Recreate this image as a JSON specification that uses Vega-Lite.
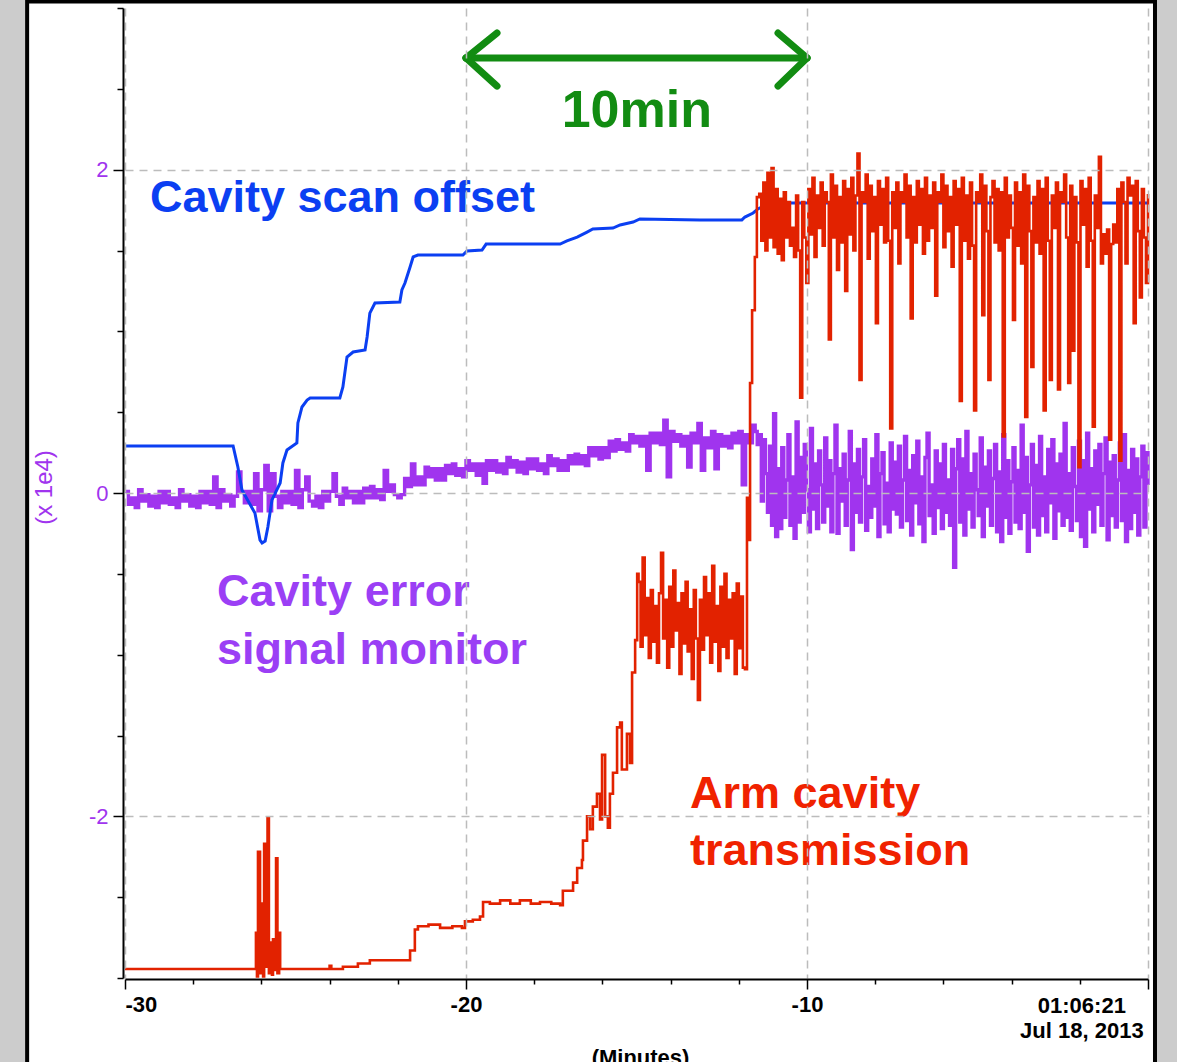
{
"$schema": "https://vega.github.io/schema/vega-lite/v6.json",
"width": 1023,
"height": 970,
"autosize": {"type": "none"},
"padding": {"left": 125, "top": 8, "right": 29, "bottom": 84},
"background": "#cccccc",
"config": {"view": {"stroke": null}, "font": "Liberation Sans"},
"resolve": {"axis": {"x": "independent", "y": "independent"}},
"datasets": {
"frame": [{"t": -32.87, "t2": 0.205, "v": 3.04, "v2": -4.5}],
"blue": [
{"t":-30.00,"v":0.291},{"t":-26.83,"v":0.291},{"t":-26.69,"v":0.161},{"t":-26.57,"v":0.019},{"t":-26.19,"v":-0.124},{"t":-26.04,"v":-0.291},{"t":-25.98,"v":-0.309},{"t":-25.89,"v":-0.297},{"t":-25.81,"v":-0.210},{"t":-25.69,"v":-0.043},{"t":-25.45,"v":0.062},{"t":-25.37,"v":0.186},{"t":-25.25,"v":0.266},{"t":-24.96,"v":0.309},{"t":-24.93,"v":0.433},{"t":-24.81,"v":0.532},{"t":-24.66,"v":0.575},{"t":-24.57,"v":0.588},{"t":-23.70,"v":0.588},{"t":-23.61,"v":0.656},{"t":-23.49,"v":0.841},{"t":-23.31,"v":0.872},{"t":-22.96,"v":0.885},{"t":-22.90,"v":0.965},{"t":-22.82,"v":1.113},{"t":-22.67,"v":1.175},{"t":-21.94,"v":1.181},{"t":-21.88,"v":1.256},{"t":-21.79,"v":1.299},{"t":-21.64,"v":1.398},{"t":-21.55,"v":1.460},{"t":-21.41,"v":1.472},{"t":-20.09,"v":1.472},{"t":-19.97,"v":1.497},{"t":-19.53,"v":1.503},{"t":-19.41,"v":1.540},{"t":-17.24,"v":1.540},{"t":-17.04,"v":1.559},{"t":-16.74,"v":1.583},{"t":-16.45,"v":1.614},{"t":-16.28,"v":1.633},{"t":-15.69,"v":1.639},{"t":-15.48,"v":1.658},{"t":-15.10,"v":1.676},{"t":-14.90,"v":1.695},{"t":-13.14,"v":1.689},{"t":-11.91,"v":1.689},{"t":-11.82,"v":1.707},{"t":-11.58,"v":1.732},{"t":-11.44,"v":1.757},{"t":-11.09,"v":1.794},{"t":0.00,"v":1.794}
],
"purple": [
{"t":-30.0,"v":0.01},{"t":-29.9,"v":-0.07},{"t":-29.8,"v":-0.03},{"t":-29.7,"v":-0.09},{"t":-29.6,"v":0.02},{"t":-29.5,"v":-0.05},{"t":-29.4,"v":-0.01},{"t":-29.3,"v":-0.08},{"t":-29.2,"v":-0.02},{"t":-29.1,"v":-0.09},
{"t":-29.0,"v":0.01},{"t":-28.9,"v":-0.06},{"t":-28.8,"v":0.01},{"t":-28.7,"v":-0.07},{"t":-28.6,"v":-0.03},{"t":-28.5,"v":-0.09},{"t":-28.4,"v":0.02},{"t":-28.3,"v":-0.05},{"t":-28.2,"v":-0.01},{"t":-28.1,"v":-0.08},
{"t":-28.0,"v":-0.02},{"t":-27.9,"v":-0.09},{"t":-27.8,"v":0.01},{"t":-27.7,"v":-0.06},{"t":-27.6,"v":0.01},{"t":-27.5,"v":-0.07},{"t":-27.4,"v":0.10},{"t":-27.3,"v":-0.09},{"t":-27.2,"v":0.02},{"t":-27.1,"v":-0.05},
{"t":-27.0,"v":-0.01},{"t":-26.9,"v":-0.08},{"t":-26.8,"v":-0.02},{"t":-26.7,"v":0.13},{"t":-26.6,"v":0.01},{"t":-26.5,"v":-0.06},{"t":-26.4,"v":0.01},{"t":-26.3,"v":-0.07},{"t":-26.2,"v":0.12},{"t":-26.1,"v":-0.11},
{"t":-26.0,"v":0.02},{"t":-25.9,"v":0.17},{"t":-25.8,"v":-0.11},{"t":-25.7,"v":0.12},{"t":-25.6,"v":-0.02},{"t":-25.5,"v":-0.09},{"t":-25.4,"v":0.01},{"t":-25.3,"v":-0.06},{"t":-25.2,"v":0.01},{"t":-25.1,"v":-0.07},
{"t":-25.0,"v":0.14},{"t":-24.9,"v":-0.09},{"t":-24.8,"v":0.02},{"t":-24.7,"v":0.10},{"t":-24.6,"v":-0.05},{"t":-24.5,"v":-0.08},{"t":-24.4,"v":-0.02},{"t":-24.3,"v":-0.09},{"t":-24.2,"v":0.01},{"t":-24.1,"v":-0.05},
{"t":-24.0,"v":0.01},{"t":-23.9,"v":0.12},{"t":-23.8,"v":-0.02},{"t":-23.7,"v":-0.07},{"t":-23.6,"v":0.03},{"t":-23.5,"v":-0.03},{"t":-23.4,"v":0.01},{"t":-23.3,"v":-0.06},{"t":-23.2,"v":0.01},{"t":-23.1,"v":-0.06},
{"t":-23.0,"v":0.03},{"t":-22.9,"v":-0.03},{"t":-22.8,"v":0.04},{"t":-22.7,"v":-0.03},{"t":-22.6,"v":0.02},{"t":-22.5,"v":-0.04},{"t":-22.4,"v":0.14},{"t":-22.3,"v":0.01},{"t":-22.2,"v":0.05},{"t":-22.1,"v":-0.01},
{"t":-22.0,"v":-0.03},{"t":-21.9,"v":-0.01},{"t":-21.8,"v":0.09},{"t":-21.7,"v":0.04},{"t":-21.6,"v":0.18},{"t":-21.5,"v":0.05},{"t":-21.4,"v":0.10},{"t":-21.3,"v":0.05},{"t":-21.2,"v":0.16},{"t":-21.1,"v":0.10},
{"t":-21.0,"v":0.15},{"t":-20.9,"v":0.08},{"t":-20.8,"v":0.15},{"t":-20.7,"v":0.08},{"t":-20.6,"v":0.17},{"t":-20.5,"v":0.12},{"t":-20.4,"v":0.18},{"t":-20.3,"v":0.11},{"t":-20.2,"v":0.15},{"t":-20.1,"v":0.10},
{"t":-20.0,"v":0.20},{"t":-19.9,"v":0.14},{"t":-19.8,"v":0.18},{"t":-19.7,"v":0.11},{"t":-19.6,"v":0.18},{"t":-19.5,"v":0.06},{"t":-19.4,"v":0.20},{"t":-19.3,"v":0.14},{"t":-19.2,"v":0.20},{"t":-19.1,"v":0.13},
{"t":-19.0,"v":0.18},{"t":-18.9,"v":0.12},{"t":-18.8,"v":0.22},{"t":-18.7,"v":0.16},{"t":-18.6,"v":0.20},{"t":-18.5,"v":0.13},{"t":-18.4,"v":0.19},{"t":-18.3,"v":0.12},{"t":-18.2,"v":0.21},{"t":-18.1,"v":0.15},
{"t":-18.0,"v":0.21},{"t":-17.9,"v":0.14},{"t":-17.8,"v":0.18},{"t":-17.7,"v":0.12},{"t":-17.6,"v":0.23},{"t":-17.5,"v":0.17},{"t":-17.4,"v":0.21},{"t":-17.3,"v":0.14},{"t":-17.2,"v":0.20},{"t":-17.1,"v":0.14},
{"t":-17.0,"v":0.23},{"t":-16.9,"v":0.18},{"t":-16.8,"v":0.24},{"t":-16.7,"v":0.18},{"t":-16.6,"v":0.23},{"t":-16.5,"v":0.17},{"t":-16.4,"v":0.28},{"t":-16.3,"v":0.23},{"t":-16.2,"v":0.28},{"t":-16.1,"v":0.21},
{"t":-16.0,"v":0.28},{"t":-15.9,"v":0.22},{"t":-15.8,"v":0.32},{"t":-15.7,"v":0.26},{"t":-15.6,"v":0.33},{"t":-15.5,"v":0.27},{"t":-15.4,"v":0.31},{"t":-15.3,"v":0.26},{"t":-15.2,"v":0.36},{"t":-15.1,"v":0.31},
{"t":-15.0,"v":0.35},{"t":-14.9,"v":0.29},{"t":-14.8,"v":0.35},{"t":-14.7,"v":0.14},{"t":-14.6,"v":0.37},{"t":-14.5,"v":0.31},{"t":-14.4,"v":0.37},{"t":-14.3,"v":0.30},{"t":-14.2,"v":0.45},{"t":-14.1,"v":0.10},
{"t":-14.0,"v":0.38},{"t":-13.9,"v":0.32},{"t":-13.8,"v":0.36},{"t":-13.7,"v":0.29},{"t":-13.6,"v":0.35},{"t":-13.5,"v":0.16},{"t":-13.4,"v":0.37},{"t":-13.3,"v":0.31},{"t":-13.2,"v":0.43},{"t":-13.1,"v":0.14},
{"t":-13.0,"v":0.34},{"t":-12.9,"v":0.28},{"t":-12.8,"v":0.38},{"t":-12.7,"v":0.15},{"t":-12.6,"v":0.36},{"t":-12.5,"v":0.29},{"t":-12.4,"v":0.35},{"t":-12.3,"v":0.28},{"t":-12.2,"v":0.37},{"t":-12.1,"v":0.31},
{"t":-12.0,"v":0.38},{"t":-11.9,"v":0.05},{"t":-11.8,"v":0.36},{"t":-11.7,"v":0.31},{"t":-11.6,"v":0.42},
{"t":-11.52,"v":0.38},{"t":-11.46,"v":0.30},{"t":-11.40,"v":0.36},{"t":-11.34,"v":-0.05},{"t":-11.28,"v":0.33},{"t":-11.22,"v":0.12},{"t":-11.16,"v":-0.12},{"t":-11.10,"v":0.29},{"t":-11.04,"v":-0.20},{"t":-10.98,"v":0.49},
{"t":-10.92,"v":-0.27},{"t":-10.86,"v":0.15},{"t":-10.80,"v":-0.22},{"t":-10.74,"v":0.28},{"t":-10.68,"v":-0.15},{"t":-10.62,"v":0.08},{"t":-10.56,"v":0.36},{"t":-10.50,"v":-0.20},{"t":-10.44,"v":0.10},{"t":-10.38,"v":-0.28},
{"t":-10.32,"v":0.44},{"t":-10.26,"v":-0.18},{"t":-10.20,"v":0.22},{"t":-10.14,"v":-0.12},{"t":-10.08,"v":0.30},{"t":-10.02,"v":0.02},{"t":-9.96,"v":-0.24},{"t":-9.90,"v":0.40},{"t":-9.84,"v":-0.10},{"t":-9.78,"v":0.18},
{"t":-9.72,"v":-0.22},{"t":-9.66,"v":0.26},{"t":-9.60,"v":0.05},{"t":-9.54,"v":-0.18},{"t":-9.48,"v":0.34},{"t":-9.42,"v":-0.08},{"t":-9.36,"v":0.20},{"t":-9.30,"v":-0.24},{"t":-9.24,"v":0.12},{"t":-9.18,"v":0.42},
{"t":-9.12,"v":-0.25},{"t":-9.06,"v":0.15},{"t":-9.00,"v":-0.05},{"t":-8.94,"v":0.24},{"t":-8.88,"v":-0.20},{"t":-8.82,"v":0.08},{"t":-8.76,"v":0.38},{"t":-8.70,"v":-0.35},{"t":-8.64,"v":0.18},{"t":-8.58,"v":-0.12},
{"t":-8.52,"v":0.27},{"t":-8.46,"v":-0.18},{"t":-8.40,"v":0.10},{"t":-8.34,"v":0.33},{"t":-8.28,"v":-0.23},{"t":-8.22,"v":0.04},{"t":-8.16,"v":-0.15},{"t":-8.10,"v":0.21},{"t":-8.04,"v":-0.08},{"t":-7.98,"v":0.36},
{"t":-7.92,"v":-0.27},{"t":-7.86,"v":0.12},{"t":-7.80,"v":0.25},{"t":-7.74,"v":-0.19},{"t":-7.68,"v":0.06},{"t":-7.62,"v":-0.24},{"t":-7.56,"v":0.31},{"t":-7.50,"v":-0.10},{"t":-7.44,"v":0.19},{"t":-7.38,"v":-0.13},
{"t":-7.32,"v":0.29},{"t":-7.26,"v":-0.21},{"t":-7.20,"v":0.08},{"t":-7.14,"v":0.35},{"t":-7.08,"v":-0.17},{"t":-7.02,"v":0.14},{"t":-6.96,"v":-0.26},{"t":-6.90,"v":0.23},{"t":-6.84,"v":-0.06},{"t":-6.78,"v":0.32},
{"t":-6.72,"v":-0.19},{"t":-6.66,"v":0.10},{"t":-6.60,"v":-0.30},{"t":-6.54,"v":0.22},{"t":-6.48,"v":0.37},{"t":-6.42,"v":-0.14},{"t":-6.36,"v":0.05},{"t":-6.30,"v":-0.25},{"t":-6.24,"v":0.26},{"t":-6.18,"v":-0.09},
{"t":-6.12,"v":0.18},{"t":-6.06,"v":-0.22},{"t":-6.00,"v":0.30},{"t":-5.94,"v":-0.12},{"t":-5.88,"v":0.08},{"t":-5.82,"v":-0.20},{"t":-5.76,"v":0.27},{"t":-5.70,"v":-0.46},{"t":-5.64,"v":0.15},{"t":-5.58,"v":0.33},
{"t":-5.52,"v":-0.18},{"t":-5.46,"v":0.21},{"t":-5.40,"v":-0.26},{"t":-5.34,"v":0.38},{"t":-5.28,"v":-0.10},{"t":-5.22,"v":0.12},{"t":-5.16,"v":-0.21},{"t":-5.10,"v":0.24},{"t":-5.04,"v":0.02},{"t":-4.98,"v":-0.14},
{"t":-4.92,"v":0.34},{"t":-4.86,"v":-0.27},{"t":-4.80,"v":0.16},{"t":-4.74,"v":-0.08},{"t":-4.68,"v":0.26},{"t":-4.62,"v":-0.20},{"t":-4.56,"v":0.09},{"t":-4.50,"v":0.30},{"t":-4.44,"v":-0.24},{"t":-4.38,"v":0.13},
{"t":-4.32,"v":-0.30},{"t":-4.26,"v":0.36},{"t":-4.20,"v":-0.15},{"t":-4.14,"v":0.20},{"t":-4.08,"v":-0.25},{"t":-4.02,"v":0.07},{"t":-3.96,"v":0.28},{"t":-3.90,"v":-0.18},{"t":-3.84,"v":0.14},{"t":-3.78,"v":-0.22},
{"t":-3.72,"v":0.42},{"t":-3.66,"v":-0.12},{"t":-3.60,"v":0.22},{"t":-3.54,"v":-0.36},{"t":-3.48,"v":0.05},{"t":-3.42,"v":0.30},{"t":-3.36,"v":-0.21},{"t":-3.30,"v":0.17},{"t":-3.24,"v":-0.26},{"t":-3.18,"v":0.35},
{"t":-3.12,"v":-0.14},{"t":-3.06,"v":0.10},{"t":-3.00,"v":-0.24},{"t":-2.94,"v":0.27},{"t":-2.88,"v":-0.06},{"t":-2.82,"v":0.33},{"t":-2.76,"v":-0.28},{"t":-2.70,"v":0.18},{"t":-2.64,"v":-0.11},{"t":-2.58,"v":0.24},
{"t":-2.52,"v":-0.20},{"t":-2.46,"v":0.43},{"t":-2.40,"v":-0.15},{"t":-2.34,"v":0.12},{"t":-2.28,"v":-0.23},{"t":-2.22,"v":0.28},{"t":-2.16,"v":0.04},{"t":-2.10,"v":-0.17},{"t":-2.04,"v":0.32},{"t":-1.98,"v":-0.27},
{"t":-1.92,"v":0.20},{"t":-1.86,"v":-0.33},{"t":-1.80,"v":0.37},{"t":-1.74,"v":-0.10},{"t":-1.68,"v":0.15},{"t":-1.62,"v":-0.24},{"t":-1.56,"v":0.26},{"t":-1.50,"v":-0.07},{"t":-1.44,"v":0.30},{"t":-1.38,"v":-0.20},
{"t":-1.32,"v":0.12},{"t":-1.26,"v":0.34},{"t":-1.20,"v":-0.29},{"t":-1.14,"v":0.19},{"t":-1.08,"v":-0.14},{"t":-1.02,"v":0.23},{"t":-0.96,"v":-0.21},{"t":-0.90,"v":0.08},{"t":-0.84,"v":0.31},{"t":-0.78,"v":-0.17},
{"t":-0.72,"v":0.36},{"t":-0.66,"v":-0.30},{"t":-0.60,"v":0.14},{"t":-0.54,"v":-0.22},{"t":-0.48,"v":0.27},{"t":-0.42,"v":-0.12},{"t":-0.36,"v":0.21},{"t":-0.30,"v":-0.26},{"t":-0.24,"v":0.10},{"t":-0.18,"v":0.29},
{"t":-0.12,"v":-0.21},{"t":-0.06,"v":0.25},{"t":0.00,"v":0.05}
],
"red": [
{"t":-30.00,"v":-2.944},{"t":-26.19,"v":-2.944},{"t":-26.16,"v":-2.72},{"t":-26.13,"v":-2.99},{"t":-26.10,"v":-2.22},{"t":-26.04,"v":-2.97},{"t":-26.01,"v":-2.54},{"t":-25.95,"v":-2.99},{"t":-25.92,"v":-2.17},{"t":-25.86,"v":-2.93},{"t":-25.82,"v":-2.01},{"t":-25.78,"v":-2.97},{"t":-25.75,"v":-2.78},{"t":-25.69,"v":-2.98},{"t":-25.66,"v":-2.76},{"t":-25.60,"v":-2.95},{"t":-25.57,"v":-2.26},{"t":-25.53,"v":-2.97},{"t":-25.48,"v":-2.72},{"t":-25.45,"v":-2.944},{"t":-24.10,"v":-2.944},{"t":-24.00,"v":-2.925},{"t":-23.95,"v":-2.944},{"t":-23.61,"v":-2.93},{"t":-23.17,"v":-2.91},{"t":-22.82,"v":-2.89},{"t":-21.94,"v":-2.89},{"t":-21.64,"v":-2.83},{"t":-21.50,"v":-2.70},{"t":-21.41,"v":-2.68},{"t":-21.10,"v":-2.67},{"t":-20.76,"v":-2.69},{"t":-20.40,"v":-2.68},{"t":-20.12,"v":-2.69},{"t":-20.03,"v":-2.65},{"t":-19.80,"v":-2.64},{"t":-19.59,"v":-2.62},{"t":-19.50,"v":-2.53},{"t":-19.30,"v":-2.54},{"t":-19.00,"v":-2.52},{"t":-18.70,"v":-2.54},{"t":-18.42,"v":-2.52},{"t":-18.10,"v":-2.54},{"t":-17.83,"v":-2.53},{"t":-17.50,"v":-2.54},{"t":-17.24,"v":-2.55},{"t":-17.16,"v":-2.46},{"t":-16.86,"v":-2.41},{"t":-16.74,"v":-2.32},{"t":-16.60,"v":-2.27},{"t":-16.57,"v":-2.15},{"t":-16.45,"v":-2.00},{"t":-16.36,"v":-2.08},{"t":-16.28,"v":-1.94},{"t":-16.16,"v":-1.86},{"t":-16.07,"v":-2.02},{"t":-16.01,"v":-1.62},{"t":-15.92,"v":-2.00},{"t":-15.84,"v":-2.07},{"t":-15.78,"v":-1.86},{"t":-15.69,"v":-1.73},{"t":-15.57,"v":-1.45},{"t":-15.48,"v":-1.42},{"t":-15.43,"v":-1.71},{"t":-15.28,"v":-1.49},{"t":-15.19,"v":-1.67},{"t":-15.13,"v":-1.11},{"t":-15.04,"v":-0.91},{"t":-14.98,"v":-0.50},
{"t":-14.94,"v":-0.55},{"t":-14.88,"v":-0.95},{"t":-14.82,"v":-0.40},{"t":-14.76,"v":-0.88},{"t":-14.70,"v":-0.65},{"t":-14.64,"v":-1.02},{"t":-14.58,"v":-0.60},{"t":-14.52,"v":-0.92},{"t":-14.46,"v":-0.70},{"t":-14.40,"v":-1.05},{"t":-14.34,"v":-0.62},{"t":-14.28,"v":-0.37},{"t":-14.22,"v":-0.90},{"t":-14.16,"v":-0.66},{"t":-14.10,"v":-1.08},{"t":-14.04,"v":-0.58},{"t":-13.98,"v":-0.95},{"t":-13.92,"v":-0.48},{"t":-13.86,"v":-0.85},{"t":-13.80,"v":-0.68},{"t":-13.74,"v":-1.12},{"t":-13.68,"v":-0.62},{"t":-13.62,"v":-0.93},{"t":-13.56,"v":-0.55},{"t":-13.50,"v":-0.98},{"t":-13.44,"v":-0.72},{"t":-13.38,"v":-1.15},{"t":-13.32,"v":-0.60},{"t":-13.26,"v":-0.90},{"t":-13.20,"v":-1.28},{"t":-13.14,"v":-0.66},{"t":-13.08,"v":-0.97},{"t":-13.02,"v":-0.52},{"t":-12.96,"v":-0.88},{"t":-12.90,"v":-0.62},{"t":-12.84,"v":-1.05},{"t":-12.78,"v":-0.45},{"t":-12.72,"v":-0.92},{"t":-12.66,"v":-0.70},{"t":-12.60,"v":-1.10},{"t":-12.54,"v":-0.58},{"t":-12.48,"v":-0.95},{"t":-12.42,"v":-0.50},{"t":-12.36,"v":-1.02},{"t":-12.30,"v":-0.66},{"t":-12.24,"v":-0.90},{"t":-12.18,"v":-0.62},{"t":-12.12,"v":-1.12},{"t":-12.06,"v":-0.56},{"t":-12.00,"v":-0.96},{"t":-11.94,"v":-0.64},{"t":-11.88,"v":-1.08},
{"t":-11.82,"v":-1.09},{"t":-11.76,"v":-0.03},{"t":-11.73,"v":-0.29},{"t":-11.67,"v":0.68},{"t":-11.61,"v":1.13},{"t":-11.53,"v":1.46},{"t":-11.47,"v":1.83},
{"t":-11.40,"v":1.85},{"t":-11.34,"v":1.56},{"t":-11.28,"v":1.92},{"t":-11.22,"v":1.50},{"t":-11.16,"v":1.98},{"t":-11.10,"v":1.58},{"t":-11.04,"v":2.01},{"t":-10.98,"v":1.52},{"t":-10.92,"v":1.88},{"t":-10.86,"v":1.48},
{"t":-10.80,"v":1.82},{"t":-10.74,"v":1.44},{"t":-10.68,"v":1.86},{"t":-10.62,"v":1.58},{"t":-10.56,"v":1.80},{"t":-10.50,"v":1.53},{"t":-10.44,"v":1.64},{"t":-10.38,"v":1.46},{"t":-10.32,"v":1.84},{"t":-10.26,"v":1.50},
{"t":-10.20,"v":0.59},{"t":-10.14,"v":1.80},{"t":-10.08,"v":1.58},{"t":-10.02,"v":1.30},{"t":-9.96,"v":1.88},{"t":-9.90,"v":1.60},{"t":-9.84,"v":1.95},{"t":-9.78,"v":1.46},{"t":-9.72,"v":1.84},{"t":-9.66,"v":1.64},
{"t":-9.60,"v":1.92},{"t":-9.54,"v":1.53},{"t":-9.48,"v":1.86},{"t":-9.42,"v":1.80},{"t":-9.36,"v":0.95},{"t":-9.30,"v":1.97},{"t":-9.24,"v":1.58},{"t":-9.18,"v":1.90},{"t":-9.12,"v":1.38},{"t":-9.06,"v":1.83},
{"t":-9.00,"v":1.55},{"t":-8.94,"v":1.93},{"t":-8.88,"v":1.25},{"t":-8.82,"v":1.88},{"t":-8.76,"v":1.60},{"t":-8.70,"v":1.95},{"t":-8.64,"v":1.50},{"t":-8.58,"v":1.84},{"t":-8.52,"v":2.10},{"t":-8.46,"v":0.70},
{"t":-8.40,"v":1.86},{"t":-8.34,"v":1.80},{"t":-8.28,"v":1.97},{"t":-8.22,"v":1.45},{"t":-8.16,"v":1.90},{"t":-8.10,"v":1.62},{"t":-8.04,"v":1.83},{"t":-7.98,"v":1.05},{"t":-7.92,"v":1.93},{"t":-7.86,"v":1.66},
{"t":-7.80,"v":1.88},{"t":-7.74,"v":1.55},{"t":-7.68,"v":1.95},{"t":-7.62,"v":1.56},{"t":-7.56,"v":0.40},{"t":-7.50,"v":1.86},{"t":-7.44,"v":1.64},{"t":-7.38,"v":1.92},{"t":-7.32,"v":1.42},{"t":-7.26,"v":1.86},
{"t":-7.20,"v":1.80},{"t":-7.14,"v":1.97},{"t":-7.08,"v":1.58},{"t":-7.02,"v":1.90},{"t":-6.96,"v":1.08},{"t":-6.90,"v":1.83},{"t":-6.84,"v":1.55},{"t":-6.78,"v":1.93},{"t":-6.72,"v":1.66},{"t":-6.66,"v":1.88},
{"t":-6.60,"v":1.48},{"t":-6.54,"v":1.95},{"t":-6.48,"v":1.56},{"t":-6.42,"v":1.84},{"t":-6.36,"v":1.64},{"t":-6.30,"v":1.92},{"t":-6.24,"v":1.22},{"t":-6.18,"v":1.86},{"t":-6.12,"v":1.80},{"t":-6.06,"v":1.97},
{"t":-6.00,"v":1.52},{"t":-5.94,"v":1.90},{"t":-5.88,"v":1.62},{"t":-5.82,"v":1.83},{"t":-5.76,"v":1.40},{"t":-5.70,"v":1.93},{"t":-5.64,"v":1.66},{"t":-5.58,"v":1.88},{"t":-5.52,"v":0.57},{"t":-5.46,"v":1.95},
{"t":-5.40,"v":1.56},{"t":-5.34,"v":1.84},{"t":-5.28,"v":1.45},{"t":-5.22,"v":1.92},{"t":-5.16,"v":1.53},{"t":-5.10,"v":0.51},{"t":-5.04,"v":1.86},{"t":-4.98,"v":1.80},{"t":-4.92,"v":1.97},{"t":-4.86,"v":1.10},
{"t":-4.80,"v":1.90},{"t":-4.74,"v":1.62},{"t":-4.68,"v":0.70},{"t":-4.62,"v":1.83},{"t":-4.56,"v":1.93},{"t":-4.50,"v":1.55},{"t":-4.44,"v":1.88},{"t":-4.38,"v":1.50},{"t":-4.32,"v":1.86},{"t":-4.26,"v":0.35},
{"t":-4.20,"v":1.95},{"t":-4.14,"v":1.58},{"t":-4.08,"v":1.84},{"t":-4.02,"v":1.64},{"t":-3.96,"v":1.07},{"t":-3.90,"v":1.92},{"t":-3.84,"v":1.53},{"t":-3.78,"v":1.86},{"t":-3.72,"v":1.42},{"t":-3.66,"v":1.97},
{"t":-3.60,"v":0.47},{"t":-3.54,"v":1.90},{"t":-3.48,"v":1.62},{"t":-3.42,"v":0.78},{"t":-3.36,"v":1.83},{"t":-3.30,"v":1.55},{"t":-3.24,"v":1.93},{"t":-3.18,"v":1.48},{"t":-3.12,"v":1.88},{"t":-3.06,"v":0.51},
{"t":-3.00,"v":1.95},{"t":-2.94,"v":1.56},{"t":-2.88,"v":0.70},{"t":-2.82,"v":1.84},{"t":-2.76,"v":1.64},{"t":-2.70,"v":1.92},{"t":-2.64,"v":0.64},{"t":-2.58,"v":1.86},{"t":-2.52,"v":1.80},{"t":-2.46,"v":1.97},
{"t":-2.40,"v":1.58},{"t":-2.34,"v":0.68},{"t":-2.28,"v":1.90},{"t":-2.22,"v":0.88},{"t":-2.16,"v":1.83},{"t":-2.10,"v":1.55},{"t":-2.04,"v":0.16},{"t":-1.98,"v":1.93},{"t":-1.92,"v":1.66},{"t":-1.86,"v":1.88},
{"t":-1.80,"v":1.40},{"t":-1.74,"v":1.95},{"t":-1.68,"v":1.56},{"t":-1.62,"v":0.41},{"t":-1.56,"v":1.84},{"t":-1.50,"v":1.64},{"t":-1.44,"v":2.08},{"t":-1.38,"v":1.42},{"t":-1.32,"v":1.60},{"t":-1.26,"v":1.48},
{"t":-1.20,"v":1.63},{"t":-1.14,"v":0.33},{"t":-1.08,"v":1.54},{"t":-1.02,"v":1.66},{"t":-0.96,"v":1.55},{"t":-0.90,"v":1.88},{"t":-0.84,"v":0.20},{"t":-0.78,"v":1.92},{"t":-0.72,"v":1.80},{"t":-0.66,"v":1.42},
{"t":-0.60,"v":1.95},{"t":-0.54,"v":1.84},{"t":-0.48,"v":1.90},{"t":-0.42,"v":1.05},{"t":-0.36,"v":1.93},{"t":-0.30,"v":1.62},{"t":-0.24,"v":1.21},{"t":-0.18,"v":1.88},{"t":-0.12,"v":1.58},{"t":-0.06,"v":1.30},
{"t":0.00,"v":1.85}
],
"arrow": [
{"t":-20,"v":2.691,"t2":-10,"v2":2.691},
{"t":-20,"v":2.691,"t2":-19.09,"v2":2.845},
{"t":-20,"v":2.691,"t2":-19.09,"v2":2.517},
{"t":-10,"v":2.691,"t2":-10.85,"v2":2.845},
{"t":-10,"v":2.691,"t2":-10.85,"v2":2.517}
],
"labels": [
{"t":-29.27,"v":1.738,"label":"Cavity scan offset","s":"scan"},
{"t":-27.30,"v":-0.699,"label":"Cavity error","s":"err"},
{"t":-27.30,"v":-1.058,"label":"signal monitor","s":"err"},
{"t":-13.43,"v":-1.948,"label":"Arm cavity","s":"arm"},
{"t":-13.43,"v":-2.301,"label":"transmission","s":"arm"}
],
"span": [{"t":-14.99,"v":2.264,"label":"10min"}],
"date": [
{"t":-1.94,"v":-3.216,"label":"01:06:21"},
{"t":-1.94,"v":-3.371,"label":"Jul 18, 2013"}
]
},
"layer": [
{
"data": {"name": "frame"},
"mark": {"type": "rect", "fill": "white", "stroke": "black", "strokeWidth": 4, "clip": false},
"encoding": {
"x": {"field": "t", "type": "quantitative", "scale": {"domain": [-30, 0], "nice": false, "zero": false},
"axis": {"orient": "bottom", "values": [-30, -20, -10, 0], "grid": true, "gridColor": "#bcbcbc", "gridDash": [8, 6], "gridWidth": 1.5, "ticks": false, "labels": false, "domain": false, "title": null, "zindex": 1}},
"x2": {"field": "t2"},
"y": {"field": "v", "type": "quantitative", "scale": {"domain": [-3, 3], "nice": false, "zero": false},
"axis": {"orient": "left", "values": [-2, 0, 2], "grid": true, "gridColor": "#bcbcbc", "gridDash": [8, 6], "gridWidth": 1.5, "ticks": false, "labels": false, "domain": false, "title": null, "zindex": 1}},
"y2": {"field": "v2"}
}
},
{
"data": {"name": "purple"},
"mark": {"type": "line", "color": "#a034ee", "strokeWidth": 3.4, "interpolate": "step-after"},
"encoding": {
"x": {"field": "t", "type": "quantitative", "scale": {"domain": [-30, 0], "nice": false, "zero": false},
"axis": {"orient": "bottom", "values": [-28, -26, -24, -22, -18, -16, -14, -12, -8, -6, -4, -2], "ticks": true, "tickSize": 5, "tickWidth": 1.5, "tickColor": "black", "labels": false, "domain": false, "grid": false, "title": null, "offset": 1, "zindex": 1}},
"y": {"field": "v", "type": "quantitative", "scale": {"domain": [-3, 3], "nice": false, "zero": false},
"axis": {"orient": "left", "values": [-3, -2.5, -1.5, -1, -0.5, 0.5, 1, 1.5, 2.5, 3], "ticks": true, "tickSize": 6, "tickWidth": 1.5, "tickColor": "black", "labels": false, "domain": false, "grid": false, "title": null, "offset": 2, "zindex": 1}}
}
},
{
"data": {"name": "blue"},
"mark": {"type": "line", "color": "#0b3ff2", "strokeWidth": 3},
"encoding": {
"x": {"field": "t", "type": "quantitative", "scale": {"domain": [-30, 0], "nice": false, "zero": false},
"axis": {"orient": "bottom", "values": [-30, -20, -10, 0], "ticks": true, "tickSize": 10, "tickWidth": 1.5, "tickColor": "black", "domain": true, "domainColor": "black", "domainWidth": 2, "grid": false,
"labelExpr": "datum.value == 0 ? '' : '' + datum.value", "labelFont": "Liberation Sans", "labelFontSize": 22, "labelFontWeight": "bold", "labelColor": "black", "labelPadding": 5, "labelFlush": true,
"title": "(Minutes)", "titleFont": "Liberation Sans", "titleFontSize": 22, "titleFontWeight": "bold", "titleColor": "black", "titleX": 515, "titleY": 68, "titleAlign": "center", "titleBaseline": "top", "offset": 1, "zindex": 1}},
"y": {"field": "v", "type": "quantitative", "scale": {"domain": [-3, 3], "nice": false, "zero": false},
"axis": {"orient": "left", "values": [-2, 0, 2], "ticks": true, "tickSize": 10, "tickWidth": 1.5, "tickColor": "black", "domain": true, "domainColor": "black", "domainWidth": 2, "grid": false,
"labelExpr": "'' + datum.value", "labelFont": "Liberation Sans", "labelFontSize": 22, "labelColor": "#a034ee", "labelPadding": 5,
"title": "(x 1e4)", "titleFont": "Liberation Sans", "titleFontSize": 24, "titleFontWeight": "normal", "titleColor": "#a034ee", "titleAngle": -90, "titleX": -79, "titleY": 479, "titleAlign": "center", "titleBaseline": "middle", "offset": 2, "zindex": 1}}
}
},
{
"data": {"name": "red"},
"mark": {"type": "line", "color": "#e22200", "strokeWidth": 2.6, "interpolate": "step-after"},
"encoding": {
"x": {"field": "t", "type": "quantitative", "scale": {"domain": [-30, 0], "nice": false, "zero": false}, "axis": null},
"y": {"field": "v", "type": "quantitative", "scale": {"domain": [-3, 3], "nice": false, "zero": false}, "axis": null}
}
},
{
"data": {"name": "arrow"},
"mark": {"type": "rule", "color": "#128c12", "strokeWidth": 7, "strokeCap": "round"},
"encoding": {
"x": {"field": "t", "type": "quantitative", "scale": {"domain": [-30, 0], "nice": false, "zero": false}, "axis": null},
"x2": {"field": "t2"},
"y": {"field": "v", "type": "quantitative", "scale": {"domain": [-3, 3], "nice": false, "zero": false}, "axis": null},
"y2": {"field": "v2"}
}
},
{
"data": {"name": "labels"},
"mark": {"type": "text", "align": "left", "baseline": "alphabetic", "font": "Liberation Sans", "fontSize": 45, "fontWeight": "bold"},
"encoding": {
"x": {"field": "t", "type": "quantitative", "scale": {"domain": [-30, 0], "nice": false, "zero": false}, "axis": null},
"y": {"field": "v", "type": "quantitative", "scale": {"domain": [-3, 3], "nice": false, "zero": false}, "axis": null},
"text": {"field": "label"},
"color": {"field": "s", "type": "nominal", "scale": {"domain": ["scan", "err", "arm"], "range": ["#0b3ff2", "#9b3ff5", "#f02200"]}, "legend": null}
}
},
{
"data": {"name": "span"},
"mark": {"type": "text", "align": "center", "baseline": "alphabetic", "font": "Liberation Sans", "fontSize": 52, "fontWeight": "bold", "color": "#128c12"},
"encoding": {
"x": {"field": "t", "type": "quantitative", "scale": {"domain": [-30, 0], "nice": false, "zero": false}, "axis": null},
"y": {"field": "v", "type": "quantitative", "scale": {"domain": [-3, 3], "nice": false, "zero": false}, "axis": null},
"text": {"field": "label"}
}
},
{
"data": {"name": "date"},
"mark": {"type": "text", "align": "center", "baseline": "alphabetic", "font": "Liberation Sans", "fontSize": 22, "fontWeight": "bold", "color": "black", "clip": false},
"encoding": {
"x": {"field": "t", "type": "quantitative", "scale": {"domain": [-30, 0], "nice": false, "zero": false}, "axis": null},
"y": {"field": "v", "type": "quantitative", "scale": {"domain": [-3, 3], "nice": false, "zero": false}, "axis": null},
"text": {"field": "label"}
}
}
]
}
